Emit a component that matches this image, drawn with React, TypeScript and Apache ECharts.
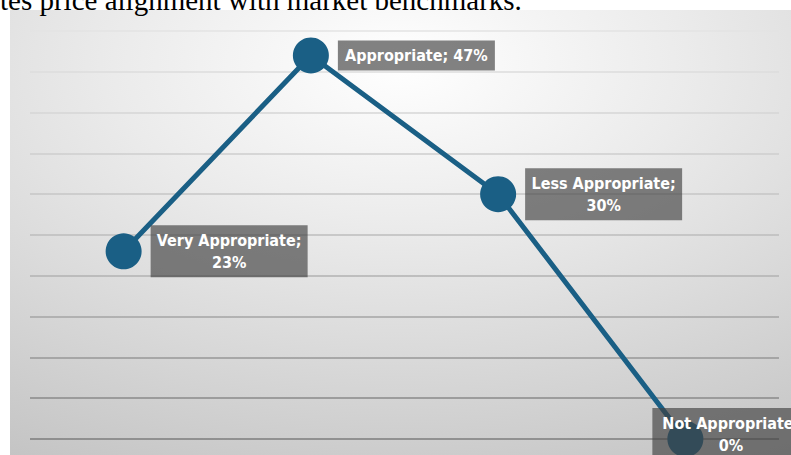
import React, { useEffect, useRef } from "react";
import * as echarts from "echarts";

const categories = ["Very Appropriate", "Appropriate", "Less Appropriate", "Not Appropriate"];
const shares = [23, 47, 30, 0];
const yTicks = { min: 0, max: 50, interval: 5 };
const captionText = "tes price alignment with market benchmarks.";

const gridColors = [
  "#7c7c7c", "#8a8a8a", "#979797", "#a4a4a4", "#b2b2b2",
  "#bdbdbd", "#c6c6c6", "#cecece", "#d6d6d6", "#dddddd", "#e3e3e3",
];

export default function App() {
  const ref = useRef<HTMLDivElement>(null);
  useEffect(() => {
    if (!ref.current) return;
    const chart = echarts.init(ref.current, undefined, { renderer: "svg" });
    const labelFont = "'DejaVu Sans Condensed', 'Liberation Sans Narrow', sans-serif";
    chart.setOption({
      animation: false,
      backgroundColor: "#ffffff",
      graphic: [
        {
          type: "rect",
          z: -10,
          silent: true,
          shape: { x: 10, y: 10, width: 781, height: 445 },
          style: {
            fill: new echarts.graphic.RadialGradient(0.5, 0.12, 1.05, [
              { offset: 0, color: "#ffffff" },
              { offset: 0.35, color: "#ebebeb" },
              { offset: 1, color: "#c2c2c2" },
            ]),
          },
        },
        {
          type: "text",
          z: 10,
          silent: true,
          x: 0,
          y: 14,
          style: {
            text: captionText,
            fill: "#000000",
            font: "29px 'Liberation Serif', 'DejaVu Serif', serif",
            verticalAlign: "bottom",
            align: "left",
          },
        },
      ],
      grid: { left: 30, right: 12, top: 31, bottom: 16, containLabel: false },
      xAxis: {
        type: "category",
        data: categories,
        boundaryGap: true,
        axisLine: { show: false },
        axisTick: { show: false },
        axisLabel: { show: false },
        splitLine: { show: false },
      },
      yAxis: {
        type: "value",
        min: yTicks.min,
        max: yTicks.max,
        interval: yTicks.interval,
        axisLine: { show: false },
        axisTick: { show: false },
        axisLabel: { show: false },
        splitLine: { show: true, lineStyle: { color: gridColors, width: 1.5 } },
      },
      series: [
        {
          type: "line",
          data: shares.map((v, i) =>
            i === shares.length - 1
              ? { value: v, label: { offset: [78.5 - 60, -5] } }
              : v
          ),
          symbol: "circle",
          symbolSize: 36,
          lineStyle: { color: "#1a5f85", width: 5 },
          itemStyle: { color: "#1a5f85" },
          z: 3,
          label: {
            show: true,
            position: "right",
            distance: 9,
            align: "center",
            offset: [78.5, 0],
            width: 143,
            overflow: "none",
            formatter: (p: any) =>
              p.name.length > 12 ? `${p.name};\n${p.value}%` : `${p.name}; ${p.value}%`,
            color: "#ffffff",
            fontFamily: labelFont,
            fontWeight: "bold",
            fontSize: 16,
            lineHeight: 22,
            backgroundColor: "rgba(66,66,66,0.66)",
            padding: [4, 7],
          },
        },
      ],
    });
    return () => chart.dispose();
  }, []);
  return (
    <div
      ref={ref}
      style={{ position: "absolute", left: 0, top: 0, width: 791, height: 455 }}
    />
  );
}
